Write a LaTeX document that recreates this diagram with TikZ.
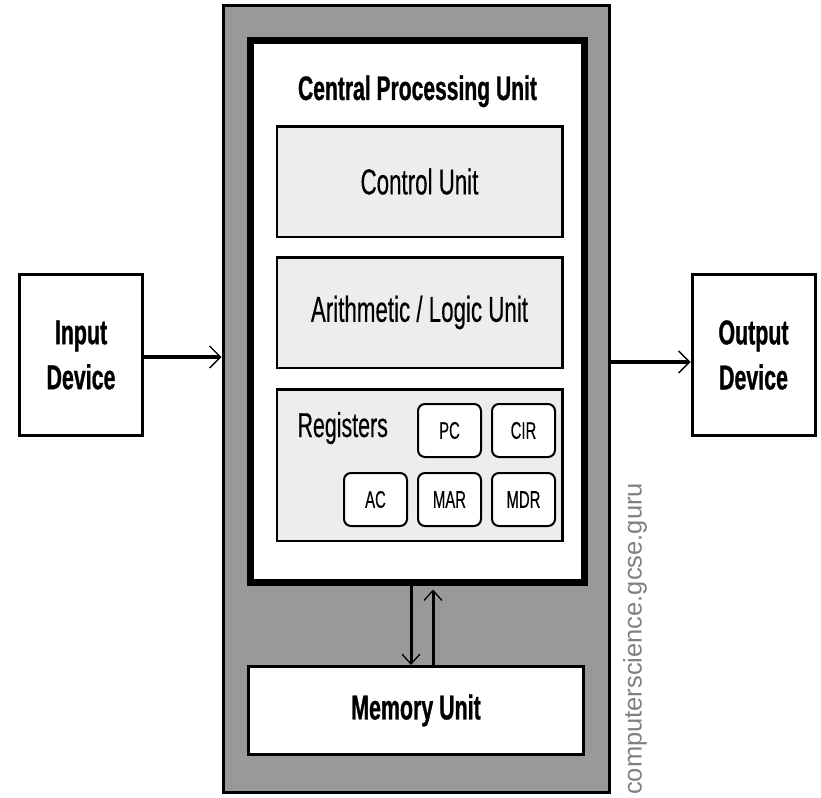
\documentclass[tikz,border=0pt]{standalone}
\usepackage{fontspec}
\setmainfont{Liberation Sans}
\newfontfamily\cond{Liberation Sans}[FakeStretch=0.62, FakeBold=0.3,
  BoldFeatures={FakeBold=0.8}]
\usetikzlibrary{arrows.meta}
\definecolor{shell}{HTML}{999999}
\definecolor{panel}{HTML}{EDEDED}
\definecolor{wmgray}{HTML}{808080}
\begin{document}
\begin{tikzpicture}[x=1pt,y=-1pt,
  unit/.style={draw, line width=2.5pt, fill=panel, minimum width=285.5pt,
    minimum height=110.5pt, inner sep=0pt, font=\cond\fontsize{36}{42}\selectfont},
  regbox/.style={draw, line width=2pt, fill=white, rounded corners=7pt,
    minimum width=63pt, minimum height=53pt, inner sep=0pt,
    font=\cond\fontsize{24}{28}\selectfont},
  dev/.style={draw, line width=3pt, fill=white, minimum width=123pt,
    minimum height=161pt, inner sep=0pt, align=center,
    font=\cond\bfseries\fontsize{34.5}{45}\selectfont},
  flow/.style={line width=4pt, -{Straight Barb[length=11pt,width=22pt,line width=1.3pt]}},
  bus/.style={line width=3pt, -{Straight Barb[length=10pt,width=18pt,line width=1.3pt]}}]
\useasboundingbox (0,0) rectangle (821,797);

% outer computer housing
\node[draw, line width=3pt, fill=shell, minimum width=386pt, minimum height=786pt,
  inner sep=0pt] (shell) at (416,399) {};

% CPU
\node[draw, line width=7pt, fill=white, minimum width=334pt, minimum height=542pt,
  inner sep=0pt] (cpu) at (417.5,311.5) {};
\node[anchor=base, font=\cond\bfseries\fontsize{34}{40}\selectfont] (title)
  at (417.5,100) {Central Processing Unit};

\node[unit] (cu) at (419.5,181.5) {Control Unit};
\node[unit] (alu) at (419.5,312.5) {Arithmetic / Logic Unit};

% registers
\node[unit, minimum height=151.5pt] (regs) at (419.5,465) {};
\node[anchor=base west, font=\cond\fontsize{34.5}{40}\selectfont] (reglabel)
  at (294,437) {Registers};
\node[regbox] (pc)  at (449.5,430.5) {PC};
\node[regbox] (cir) at (523.5,430.5) {CIR};
\node[regbox] (ac)  at (375.5,499.5) {AC};
\node[regbox] (mar) at (449.5,499.5) {MAR};
\node[regbox] (mdr) at (523.5,499.5) {MDR};

% memory
\node[draw, line width=3pt, fill=white, minimum width=335pt, minimum height=88pt,
  inner sep=0pt, font=\cond\bfseries\fontsize{34.5}{40}\selectfont] (mem)
  at (416,710.5) {Memory Unit};

% peripherals
\node[dev] (in)  at (81,355)    {Input\\Device};
\node[dev] (out) at (753.5,355) {Output\\Device};

% data flow
\path (in.east) ++(0,2) coordinate (inport);
\draw[flow] (inport) -- (shell.west |- inport);
\path (out.west) ++(0,7) coordinate (outport);
\draw[flow] (shell.east |- outport) -- (outport);

\path (cpu.south) ++(-6.5,0) coordinate (down);
\path (cpu.south) ++(15.5,3.5) coordinate (up);
\draw[bus] (down) -- (down |- mem.north);
\draw[bus] (up |- mem.north) -- (up);

% watermark
\node[rotate=90, text=wmgray, font=\fontsize{25.5}{30}\selectfont, inner sep=0pt]
  (wm) at (635,639) {computerscience.gcse.guru};
\end{tikzpicture}
\end{document}
